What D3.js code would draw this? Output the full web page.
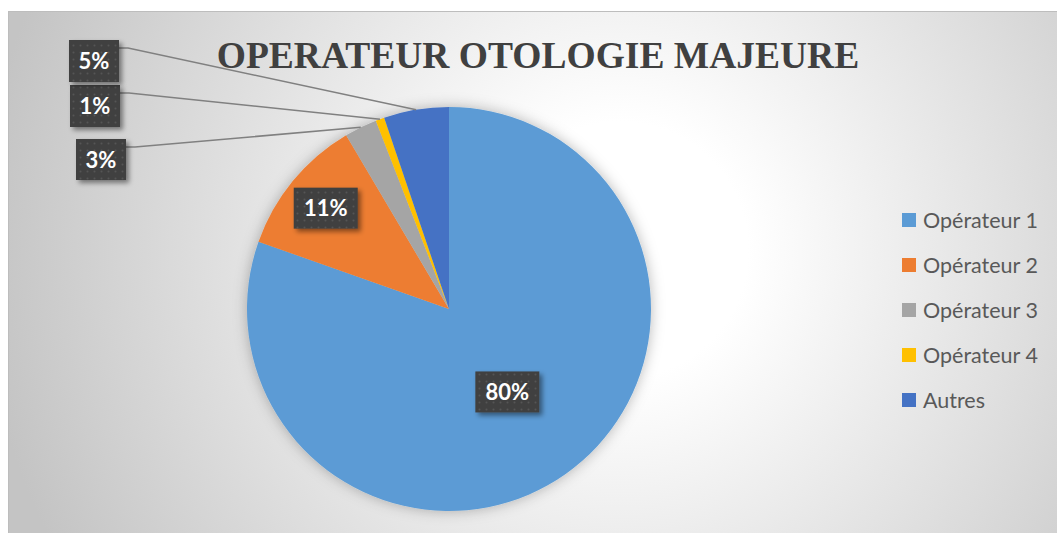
<!DOCTYPE html>
<html>
<head>
<meta charset="utf-8">
<script src="https://cdnjs.cloudflare.com/ajax/libs/d3/7.8.5/d3.min.js"></script>
<style>
  body { margin: 0; background: #fff; }
  svg { display: block; }
</style>
</head>
<body>
<script>
var categories = ["Opérateur 1", "Opérateur 2", "Opérateur 3", "Opérateur 4", "Autres"];
var values = [80.4, 11.1, 2.6, 0.7, 5.2];
var colors = ["#5B9BD5", "#ED7D31", "#A5A5A5", "#FFC000", "#4472C4"];
var title = "OPERATEUR OTOLOGIE MAJEURE";

var width = 1057, height = 533;
var cx = 449, cy = 309, radius = 202;

// where each data label sits: inside labels use a fraction of the radius,
// outside labels get a box at the left and a leader line
var labelLayout = [
  { inside: 0.5 },
  { inside: 0.79 },
  { box: [76, 139, 50, 41] },
  { box: [70, 85, 50, 42] },
  { box: [69, 40, 50, 42] }
];

var svg = d3
  .select("body")
  .append("svg")
  .attr("width", width)
  .attr("height", height);

var defs = svg.append("defs");

var grad = defs.append("radialGradient")
  .attr("id", "bg")
  .attr("gradientUnits", "userSpaceOnUse")
  .attr("cx", 620).attr("cy", 250).attr("r", 640);
grad.append("stop").attr("offset", 0.2).attr("stop-color", "#ffffff");
grad.append("stop").attr("offset", 1).attr("stop-color", "#c4c4c4");

var dots = defs.append("pattern")
  .attr("id", "dots")
  .attr("patternUnits", "userSpaceOnUse")
  .attr("width", 7).attr("height", 7);
dots.append("rect").attr("width", 7).attr("height", 7).attr("fill", "#404040");
dots.append("circle").attr("cx", 3.5).attr("cy", 3.5).attr("r", 1).attr("fill", "#545454");

var pieShadow = defs.append("filter").attr("id", "pieShadow")
  .attr("x", "-20%").attr("y", "-20%").attr("width", "140%").attr("height", "140%");
pieShadow.append("feDropShadow")
  .attr("dx", 0).attr("dy", 0).attr("stdDeviation", 7)
  .attr("flood-color", "#000").attr("flood-opacity", 0.28);

var boxShadow = defs.append("filter").attr("id", "boxShadow")
  .attr("x", "-30%").attr("y", "-30%").attr("width", "170%").attr("height", "170%");
boxShadow.append("feDropShadow")
  .attr("dx", 3).attr("dy", 3).attr("stdDeviation", 2.5)
  .attr("flood-color", "#000").attr("flood-opacity", 0.45);

// chart area
svg.append("rect")
  .attr("x", 8.5).attr("y", 11.5)
  .attr("width", width - 8).attr("height", height - 11)
  .attr("fill", "url(#bg)")
  .attr("stroke", "#bdbdbd");

svg.append("text")
  .attr("x", 538).attr("y", 68)
  .attr("text-anchor", "middle")
  .attr("font-family", "'Liberation Serif', 'Times New Roman', serif")
  .attr("font-weight", "bold")
  .attr("font-size", 37.5)
  .attr("fill", "#404040")
  .text(title);

var total = d3.sum(values);
var pie = d3.pie().sort(null).value(d => d);
var arcs = pie(values);
var arc = d3.arc().innerRadius(0).outerRadius(radius);

var pieGroup = svg.append("g")
  .attr("transform", "translate(" + cx + "," + cy + ")");

pieGroup.append("g")
  .attr("filter", "url(#pieShadow)")
  .selectAll("path")
  .data(arcs)
  .enter()
  .append("path")
  .attr("d", arc)
  .attr("fill", (d, i) => colors[i]);

function pctText(v) {
  return Math.round(v / total * 100) + "%";
}

function drawBox(x, y, w, h, txt) {
  svg.append("rect")
    .attr("x", x).attr("y", y)
    .attr("width", w).attr("height", h)
    .attr("fill", "url(#dots)")
    .attr("filter", "url(#boxShadow)");
  svg.append("text")
    .attr("x", x + w / 2).attr("y", y + h / 2 + 8)
    .attr("text-anchor", "middle")
    .attr("font-family", "Lato, 'Open Sans', sans-serif")
    .attr("font-weight", "bold")
    .attr("font-size", 22)
    .attr("fill", "#ffffff")
    .text(txt);
}

arcs.forEach(function(d, i) {
  var lay = labelLayout[i];
  var txt = pctText(values[i]);
  if (lay.inside) {
    var r = radius * lay.inside;
    var c = d3.arc().innerRadius(r).outerRadius(r).centroid(d);
    var w = txt.length > 2 ? 64 : 50;
    drawBox(cx + c[0] - w / 2, cy + c[1] - 20, w, 41, txt);
  } else {
    var p = d3.arc().innerRadius(radius).outerRadius(radius).centroid(d);
    var b = lay.box;
    var ly = b[1] + 8;
    svg.append("path")
      .attr("d", "M" + (b[0] + b[2]) + "," + ly +
        "L" + (b[0] + b[2] + 9) + "," + ly +
        "L" + (cx + p[0]) + "," + (cy + p[1]))
      .attr("fill", "none")
      .attr("stroke", "#808080")
      .attr("stroke-width", 1.5);
    drawBox(b[0], b[1], b[2], b[3], txt);
  }
});

// legend
var legend = svg.append("g")
  .attr("transform", "translate(902,213)");

var item = legend.selectAll("g")
  .data(categories)
  .enter()
  .append("g")
  .attr("transform", (d, i) => "translate(0," + i * 45 + ")");

item.append("rect")
  .attr("width", 14).attr("height", 14)
  .attr("fill", (d, i) => colors[i]);

item.append("text")
  .attr("x", 21).attr("y", 14.5)
  .attr("font-family", "Lato, 'Open Sans', sans-serif")
  .attr("font-size", 21.5)
  .attr("fill", "#595959")
  .text(d => d);
</script>
</body>
</html>
